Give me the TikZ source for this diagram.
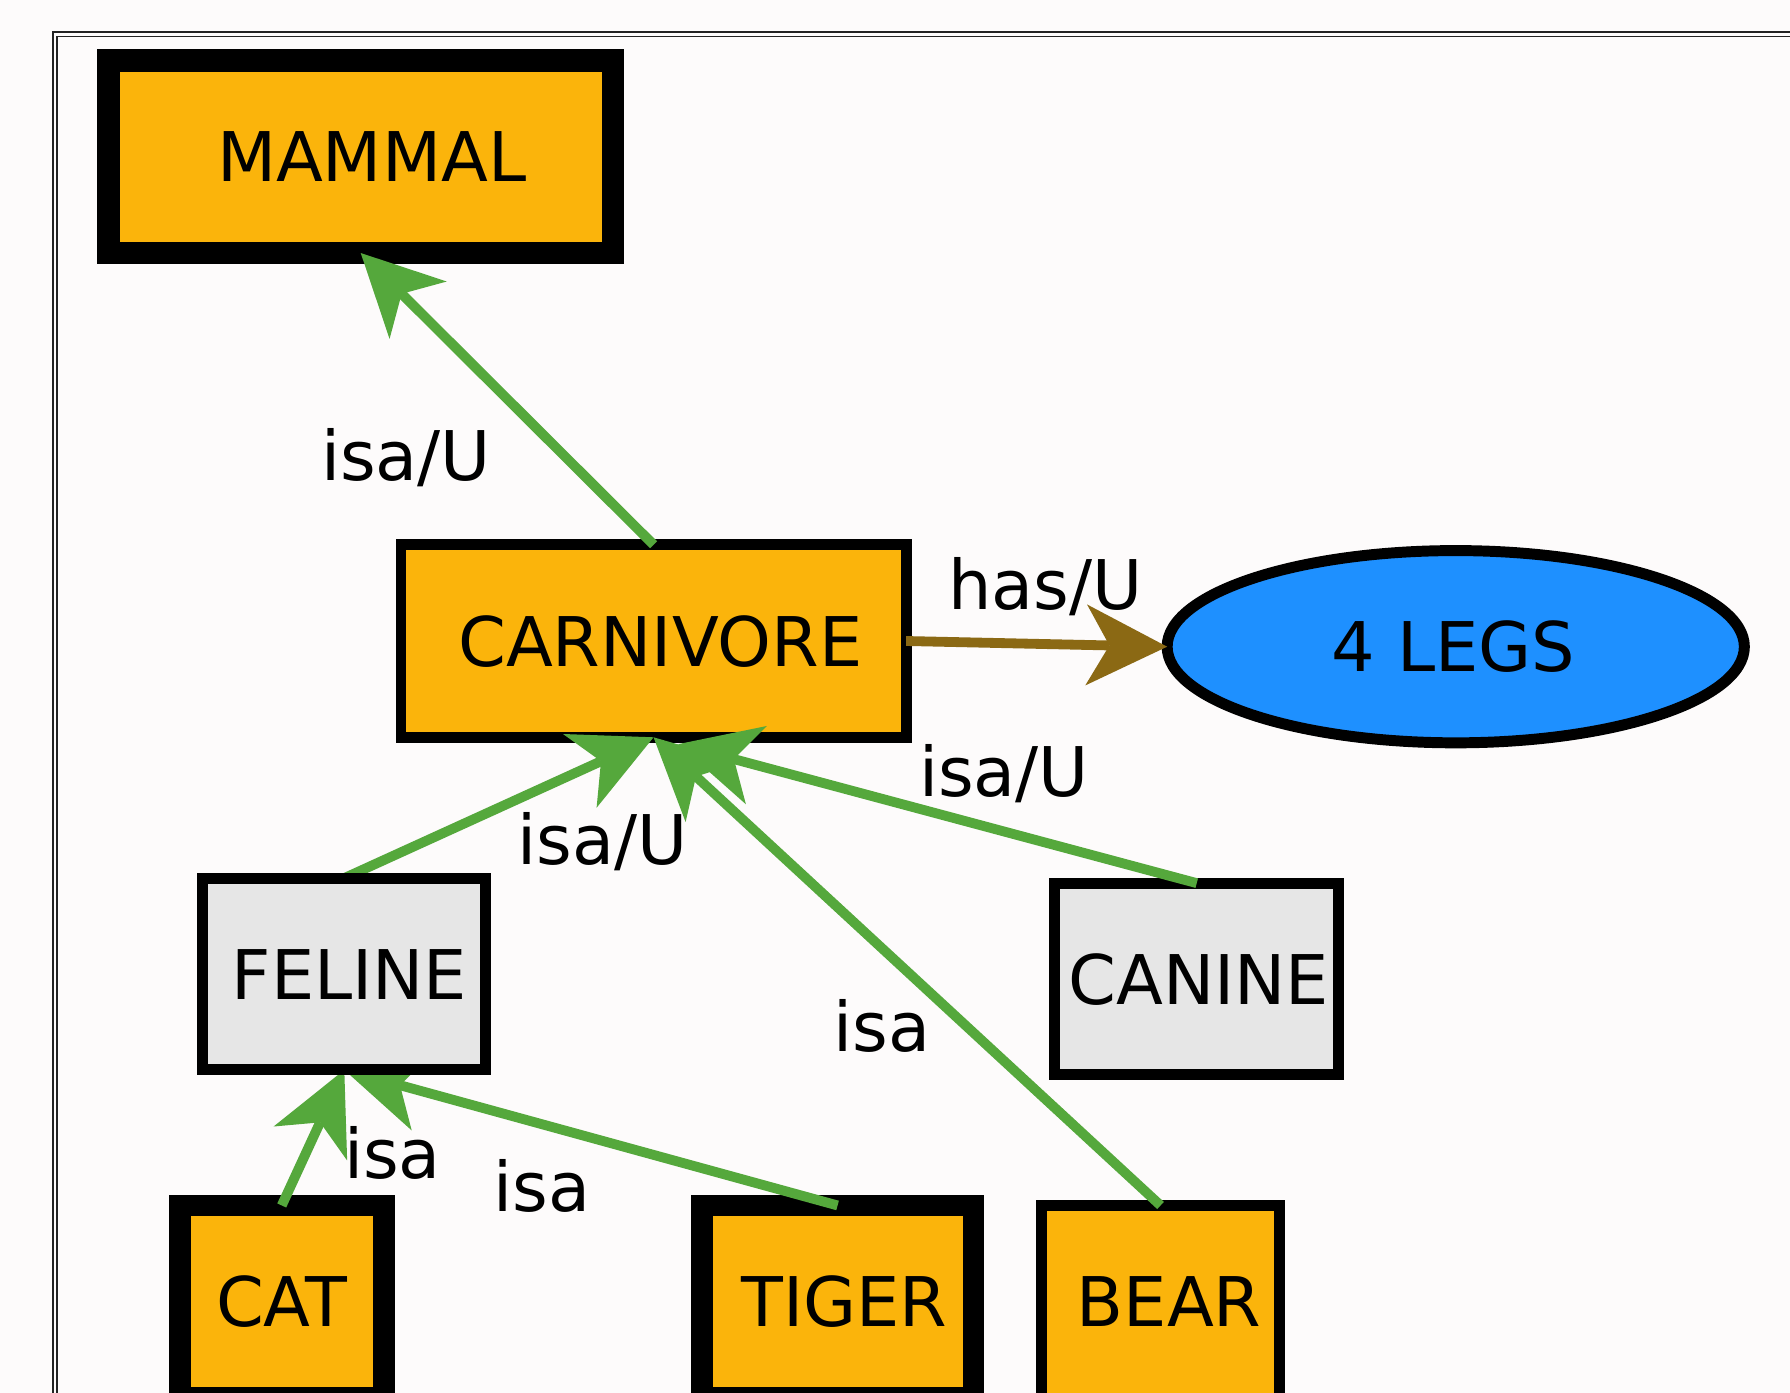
\documentclass[tikz,border=0pt]{standalone}
\usepackage{fontspec}
\setmainfont{DejaVu Sans}
\usetikzlibrary{arrows.meta,shapes.geometric,calc}
\definecolor{bgc}{RGB}{253,251,251}
\definecolor{orfill}{RGB}{251,180,11}
\definecolor{grfill}{RGB}{230,230,230}
\definecolor{blfill}{RGB}{30,144,255}
\definecolor{edgegreen}{RGB}{85,168,60}
\definecolor{edgebrown}{RGB}{139,105,20}
\definecolor{framec}{RGB}{35,35,35}
\pgfdeclarelayer{front}
\pgfsetlayers{main,front}
\begin{document}
\begin{tikzpicture}[x=0.5pt,y=-0.5pt,
  every node/.style={font=\fontsize{30pt}{36pt}\selectfont, text=black},
  tshift/.style={execute at begin node={\hspace*{#1}}},
  boxnode/.style={rectangle, draw=black, inner sep=0pt, outer sep=0pt,
    text height=21.9pt, text depth=0pt, minimum height=84.35pt},
  orangebox/.style={boxnode, fill=orfill},
  graybox/.style={boxnode, fill=grfill, line width=4.8pt, minimum height=84pt},
  lbl/.style={anchor=base, inner sep=0pt, outer sep=0pt},
  edgeg/.style={draw=edgegreen, line width=4.3pt,
    -{Stealth[length=35.5pt,width=35.5pt,inset=10.2pt,line width=0pt]}},
  edgeb/.style={draw=edgebrown, line width=4.3pt,
    -{Stealth[length=35.5pt,width=35.5pt,inset=10.2pt,line width=0pt]}},
  framestyle/.style={draw=framec, line width=0.85pt}
]
\path[use as bounding box] (0,0) rectangle (1568,1220);
\clip (0,0) rectangle (1568,1220);
\fill[bgc] (0,0) rectangle (1568,1220);
\draw[framestyle] (46.5,27.7) rectangle (1700,1300);
\draw[framestyle] (50.3,32) rectangle (1700,1300);

% nodes
\node[orangebox, line width=9.75pt, minimum width=221pt, tshift=9.5pt] (mammal) at (316,137.3) {MAMMAL};
\node[orangebox, line width=4.8pt, minimum width=221.25pt, tshift=6pt] (carn) at (572.5,561.5) {CARNIVORE};
\node[ellipse, draw=black, fill=blfill, line width=4.8pt, inner sep=0pt, outer sep=0pt,
  minimum width=252.8pt, minimum height=84.2pt, text height=21.9pt, text depth=0pt, tshift=-2pt]
  (legs) at (1275.2,566.5) {4 LEGS};
\begin{pgfonlayer}{front}
\node[graybox, minimum width=124pt, tshift=4.5pt] (feline) at (301.6,853.2) {FELINE};
\end{pgfonlayer}
\node[graybox, minimum width=124.3pt, tshift=1.7pt] (canine) at (1048.3,857.6) {CANINE};
\node[orangebox, line width=9.5pt, minimum width=89.3pt] (cat) at (246.8,1140.3) {CAT};
\node[orangebox, line width=9.5pt, minimum width=119pt, tshift=6pt] (tiger) at (733.7,1140.3) {TIGER};
\node[orangebox, line width=4.85pt, minimum width=104.4pt, tshift=7.5pt] (bear) at (1016.6,1140.3) {BEAR};

% connectors
\coordinate (carnin) at ($(carn.south)+(21.5,6)$);
\draw[edgeg] (carn.north) -- (mammal.south);
\draw[edgeb] (carn.east) -- (legs.west);
\draw[edgeg] (feline.north) -- (carn.south);
\draw[edgeg] (canine.north) -- (carnin);
\draw[edgeg] (bear.north) -- (carn.south);
\draw[edgeg] (cat.north) -- (feline.south);
\draw[edgeg] (tiger.north) -- (feline.south);

% labels
\node[lbl] (l1) at (355.7,421) {isa/U};
\node[lbl] (l2) at (916,534) {has/U};
\node[lbl] (l3) at (527.9,757.7) {isa/U};
\node[lbl] (l4) at (879.5,698) {isa/U};
\node[lbl] (l5) at (772.5,921) {isa};
\node[lbl] (l6) at (343.8,1032.2) {isa};
\node[lbl] (l7) at (474.9,1061.4) {isa};
\end{tikzpicture}
\end{document}
